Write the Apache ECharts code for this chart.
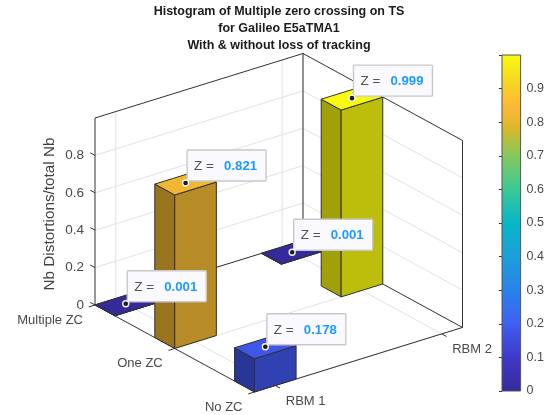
<!DOCTYPE html>
<html>
<head>
<meta charset="utf-8">
<style>html,body{margin:0;padding:0;background:#fff}#c{width:547px;height:415px}</style>
<script src="https://cdn.jsdelivr.net/npm/echarts@6/dist/echarts.min.js"></script>
</head>
<body>
<div id="c"></div>
<script>
// ---- data ----
var titleLines = ['Histogram of Multiple zero crossing on TS', 'for Galileo E5aTMA1', 'With & without loss of tracking'];
var rbmCategories = ['RBM 1', 'RBM 2'];
var zcCategories = ['Multiple ZC', 'One ZC', 'No ZC'];
var rbm1Values = [0.001, 0.821, 0.178];
var rbm2Values = [0.001, 0.999, 0];
var zTicks = [0, 0.2, 0.4, 0.6, 0.8];
var zLabel = 'Nb Distortions/total Nb';
var zMax = 1;
var colorbarTicks = [0, 0.1, 0.2, 0.3, 0.4, 0.5, 0.6, 0.7, 0.8, 0.9];

// ---- colormap (value, colour) ----
var colormap = [
  [0, '#352a9a'], [0.1, '#3f38c8'], [0.2, '#3f5ff2'], [0.3, '#2a82ea'], [0.4, '#1d9fd8'],
  [0.5, '#08b6c6'], [0.6, '#3cc896'], [0.7, '#84c95c'], [0.775, '#d4b92e'], [0.8, '#e8b730'],
  [0.85, '#fdb836'], [0.92, '#f5d824'], [1, '#f9fb0f']
];
function hex(c) { return [1, 3, 5].map(function (i) { return parseInt(c.substr(i, 2), 16); }); }
function colorAt(v) {
  for (var i = 1; i < colormap.length; i++) {
    if (v <= colormap[i][0]) {
      var a = colormap[i - 1], b = colormap[i], t = (v - a[0]) / (b[0] - a[0]);
      var ca = hex(a[1]), cb = hex(b[1]);
      return ca.map(function (q, k) { return q + (cb[k] - q) * t; });
    }
  }
  return hex(colormap[colormap.length - 1][1]);
}
function rgb(c, k) { return 'rgb(' + c.map(function (q) { return Math.round(q * k); }).join(',') + ')'; }

// ---- oblique 3D projection onto the grid's value axes ----
// unit X (RBM) and unit Y (ZC) expressed in the grid's horizontal / vertical axis units
var PX = [1, 0.345], PY = [0.7668, -0.465];
function P(api, X, Y, Z) {
  return api.coord([X * PX[0] + Y * PY[0], Z + X * PX[1] + Y * PY[1]]);
}
// positions of the category ticks and bars along the unit box edges
var xTickPos = [0.1, 0.9], yTickPos = [0, 0.5, 1];
var barStartX = [0, 0.8], barStartY = [0, 0.375, 0.875];
var BW = 0.2, BD = 0.125;

var AXC = '#333333', GRC = '#e2e2e2', TXC = '#4a4a4a', FF = '"Liberation Sans", Arial, sans-serif';
function ln(a, b, c, w) {
  return { type: 'line', shape: { x1: a[0], y1: a[1], x2: b[0], y2: b[1] }, style: { stroke: c, lineWidth: w || 1, fill: null } };
}

// build cells, back to front
var cells = [];
[rbm1Values, rbm2Values].forEach(function (arr, xi) {
  arr.forEach(function (v, yi) { if (v > 0) cells.push([xi, yi, v]); });
});
cells.sort(function (a, b) { return (barStartY[a[1]] - barStartX[a[0]]) - (barStartY[b[1]] - barStartX[b[0]]); });

function renderBox(params, api) {
  var ch = [];
  function g(a, b) { ch.push(ln(a, b, GRC, 1)); }
  // z grid on both back walls
  zTicks.forEach(function (z) {
    if (z === 0) return;
    g(P(api, 0, 0, z), P(api, 1, 0, z));
    g(P(api, 1, 0, z), P(api, 1, 1, z));
  });
  // x grid: back wall verticals + floor
  xTickPos.forEach(function (x) {
    g(P(api, x, 0, 0), P(api, x, 0, zMax));
    g(P(api, x, 0, 0), P(api, x, 1, 0));
  });
  // y grid: right-back wall verticals + floor
  yTickPos.forEach(function (y) {
    g(P(api, 1, y, 0), P(api, 1, y, zMax));
    g(P(api, 0, y, 0), P(api, 1, y, 0));
  });
  function e(a, b) { ch.push(ln(a, b, AXC, 1)); }
  e(P(api, 0, 0, 0), P(api, 0, 0, zMax));
  e(P(api, 1, 0, 0), P(api, 1, 0, zMax));
  e(P(api, 1, 1, 0), P(api, 1, 1, zMax));
  e(P(api, 0, 0, zMax), P(api, 1, 0, zMax));
  e(P(api, 1, 0, zMax), P(api, 1, 1, zMax));
  e(P(api, 0, 0, 0), P(api, 1, 0, 0));
  e(P(api, 1, 0, 0), P(api, 1, 1, 0));
  e(P(api, 0, 0, 0), P(api, 0, 1, 0));
  e(P(api, 0, 1, 0), P(api, 1, 1, 0));
  // slanted ticks
  zTicks.forEach(function (z) { e(P(api, 0, 0, z), P(api, 0, -0.03, z)); });
  xTickPos.forEach(function (x) { e(P(api, x, 1, 0), P(api, x, 1.03, 0)); });
  yTickPos.forEach(function (y) { e(P(api, 0, y, 0), P(api, -0.03, y, 0)); });
  // category labels
  function t(txt, p, dx, dy, al) {
    ch.push({ type: 'text', x: p[0] + dx, y: p[1] + dy, style: { text: txt, fill: TXC, font: '13px ' + FF, align: al, verticalAlign: 'middle' } });
  }
  zcCategories.forEach(function (c, i) { t(c, P(api, 0, yTickPos[i], 0), -12, 15, 'right'); });
  rbmCategories.forEach(function (c, i) { t(c, P(api, xTickPos[i], 1, 0), 10.5, 15.5, 'left'); });
  return { type: 'group', children: ch };
}

function renderBar(params, api) {
  var xi = api.value(0), yi = api.value(1), v = api.value(2);
  var x0 = barStartX[xi], x1 = x0 + BW, y0 = barStartY[yi], y1 = y0 + BD;
  var c = colorAt(v);
  function poly(pts, fill) {
    return { type: 'polygon', shape: { points: pts }, style: { fill: fill, stroke: '#33302a', lineWidth: 1, lineJoin: 'round' } };
  }
  return {
    type: 'group', children: [
      poly([P(api, x0, y0, 0), P(api, x0, y1, 0), P(api, x0, y1, v), P(api, x0, y0, v)], rgb(c, 0.64)),
      poly([P(api, x0, y1, 0), P(api, x1, y1, 0), P(api, x1, y1, v), P(api, x0, y1, v)], rgb(c, 0.76)),
      poly([P(api, x0, y0, v), P(api, x0, y1, v), P(api, x1, y1, v), P(api, x1, y0, v)], rgb(c, 1))
    ]
  };
}

function renderTip(params, api) {
  var xi = api.value(0), yi = api.value(1), v = api.value(2);
  var d = P(api, barStartX[xi] + BW / 2, barStartY[yi] + BD / 2, v);
  var L = d[0] + 1.5, B = d[1] - 2, W = 79, H = 31;
  return {
    type: 'group', children: [
      { type: 'rect', shape: { x: L, y: B - H, width: W, height: H, r: 1 }, style: { fill: '#f9f9fe', stroke: '#c9c9c9', lineWidth: 1.4 } },
      { type: 'text', x: L + 7, y: B - H / 2 + 1, style: { text: 'Z =', fill: '#555', font: '13.5px ' + FF, align: 'left', verticalAlign: 'middle' } },
      { type: 'text', x: L + 37, y: B - H / 2 + 1, style: { text: v.toFixed(3), fill: '#1e9bff', font: 'bold 13.2px ' + FF, align: 'left', verticalAlign: 'middle' } },
      { type: 'circle', shape: { cx: d[0], cy: d[1], r: 3 }, style: { fill: '#1c1c1c', stroke: '#f4f4f4', lineWidth: 1.4 } }
    ]
  };
}

function renderColorbar(params, api) {
  var a = api.coord([0, 1]), b = api.coord([1, 0]);
  return {
    type: 'rect',
    shape: { x: a[0], y: a[1], width: b[0] - a[0], height: b[1] - a[1] },
    style: {
      fill: new echarts.graphic.LinearGradient(0, 1, 0, 0, colormap.map(function (s) { return { offset: s[0], color: s[1] }; })),
      stroke: '#555', lineWidth: 1
    }
  };
}

var chart = echarts.init(document.getElementById('c'), null, { renderer: 'canvas' });
chart.setOption({
  animation: false,
  backgroundColor: '#fff',
  title: {
    text: titleLines.join('\n'), left: 274, top: -1.5, textAlign: 'center',
    textStyle: { fontFamily: FF, fontSize: 12.5, fontWeight: 'bold', color: '#1c1c1c', lineHeight: 16.7 }
  },
  grid: [
    { left: 95, top: 118, width: 208, height: 187 },
    { left: 502, top: 55, width: 21, height: 336 }
  ],
  xAxis: [
    { gridIndex: 0, type: 'value', min: 0, max: 1, show: false },
    { gridIndex: 1, type: 'value', min: 0, max: 1, show: false }
  ],
  yAxis: [
    {
      gridIndex: 0, type: 'value', min: 0, max: zMax, interval: 0.2,
      name: zLabel, nameLocation: 'middle', nameRotate: 90, nameGap: 38,
      nameTextStyle: { fontFamily: FF, fontSize: 15.3, color: '#404040', padding: [0, 5, 0, 0] },
      axisLine: { show: false }, axisTick: { show: false }, splitLine: { show: false },
      axisLabel: {
        show: true, margin: 11, fontFamily: FF, fontSize: 13.5, color: TXC,
        formatter: function (v) { return zTicks.indexOf(v) >= 0 ? String(v) : ''; }
      }
    },
    {
      gridIndex: 1, type: 'value', min: 0, max: 1, interval: 0.1, position: 'right',
      axisLine: { show: false }, splitLine: { show: false },
      axisTick: { show: true, inside: true, length: 3, lineStyle: { color: '#333', width: 1 } },
      axisLabel: {
        show: true, margin: 6, fontFamily: FF, fontSize: 12.5, color: TXC,
        formatter: function (v) { return colorbarTicks.indexOf(v) >= 0 ? String(v) : ''; }
      }
    }
  ],
  series: [
    { type: 'custom', name: 'box', xAxisIndex: 0, yAxisIndex: 0, z: 1, silent: true, clip: false, data: [[0, 0]], renderItem: renderBox },
    { type: 'custom', name: 'bars', xAxisIndex: 0, yAxisIndex: 0, z: 2, silent: true, clip: false, data: cells, renderItem: renderBar },
    { type: 'custom', name: 'tips', xAxisIndex: 0, yAxisIndex: 0, z: 3, silent: true, clip: false, data: cells, renderItem: renderTip },
    { type: 'custom', name: 'colorbar', xAxisIndex: 1, yAxisIndex: 1, z: 1, silent: true, clip: false, data: [[0, 0]], renderItem: renderColorbar }
  ]
});
</script>
</body>
</html>
